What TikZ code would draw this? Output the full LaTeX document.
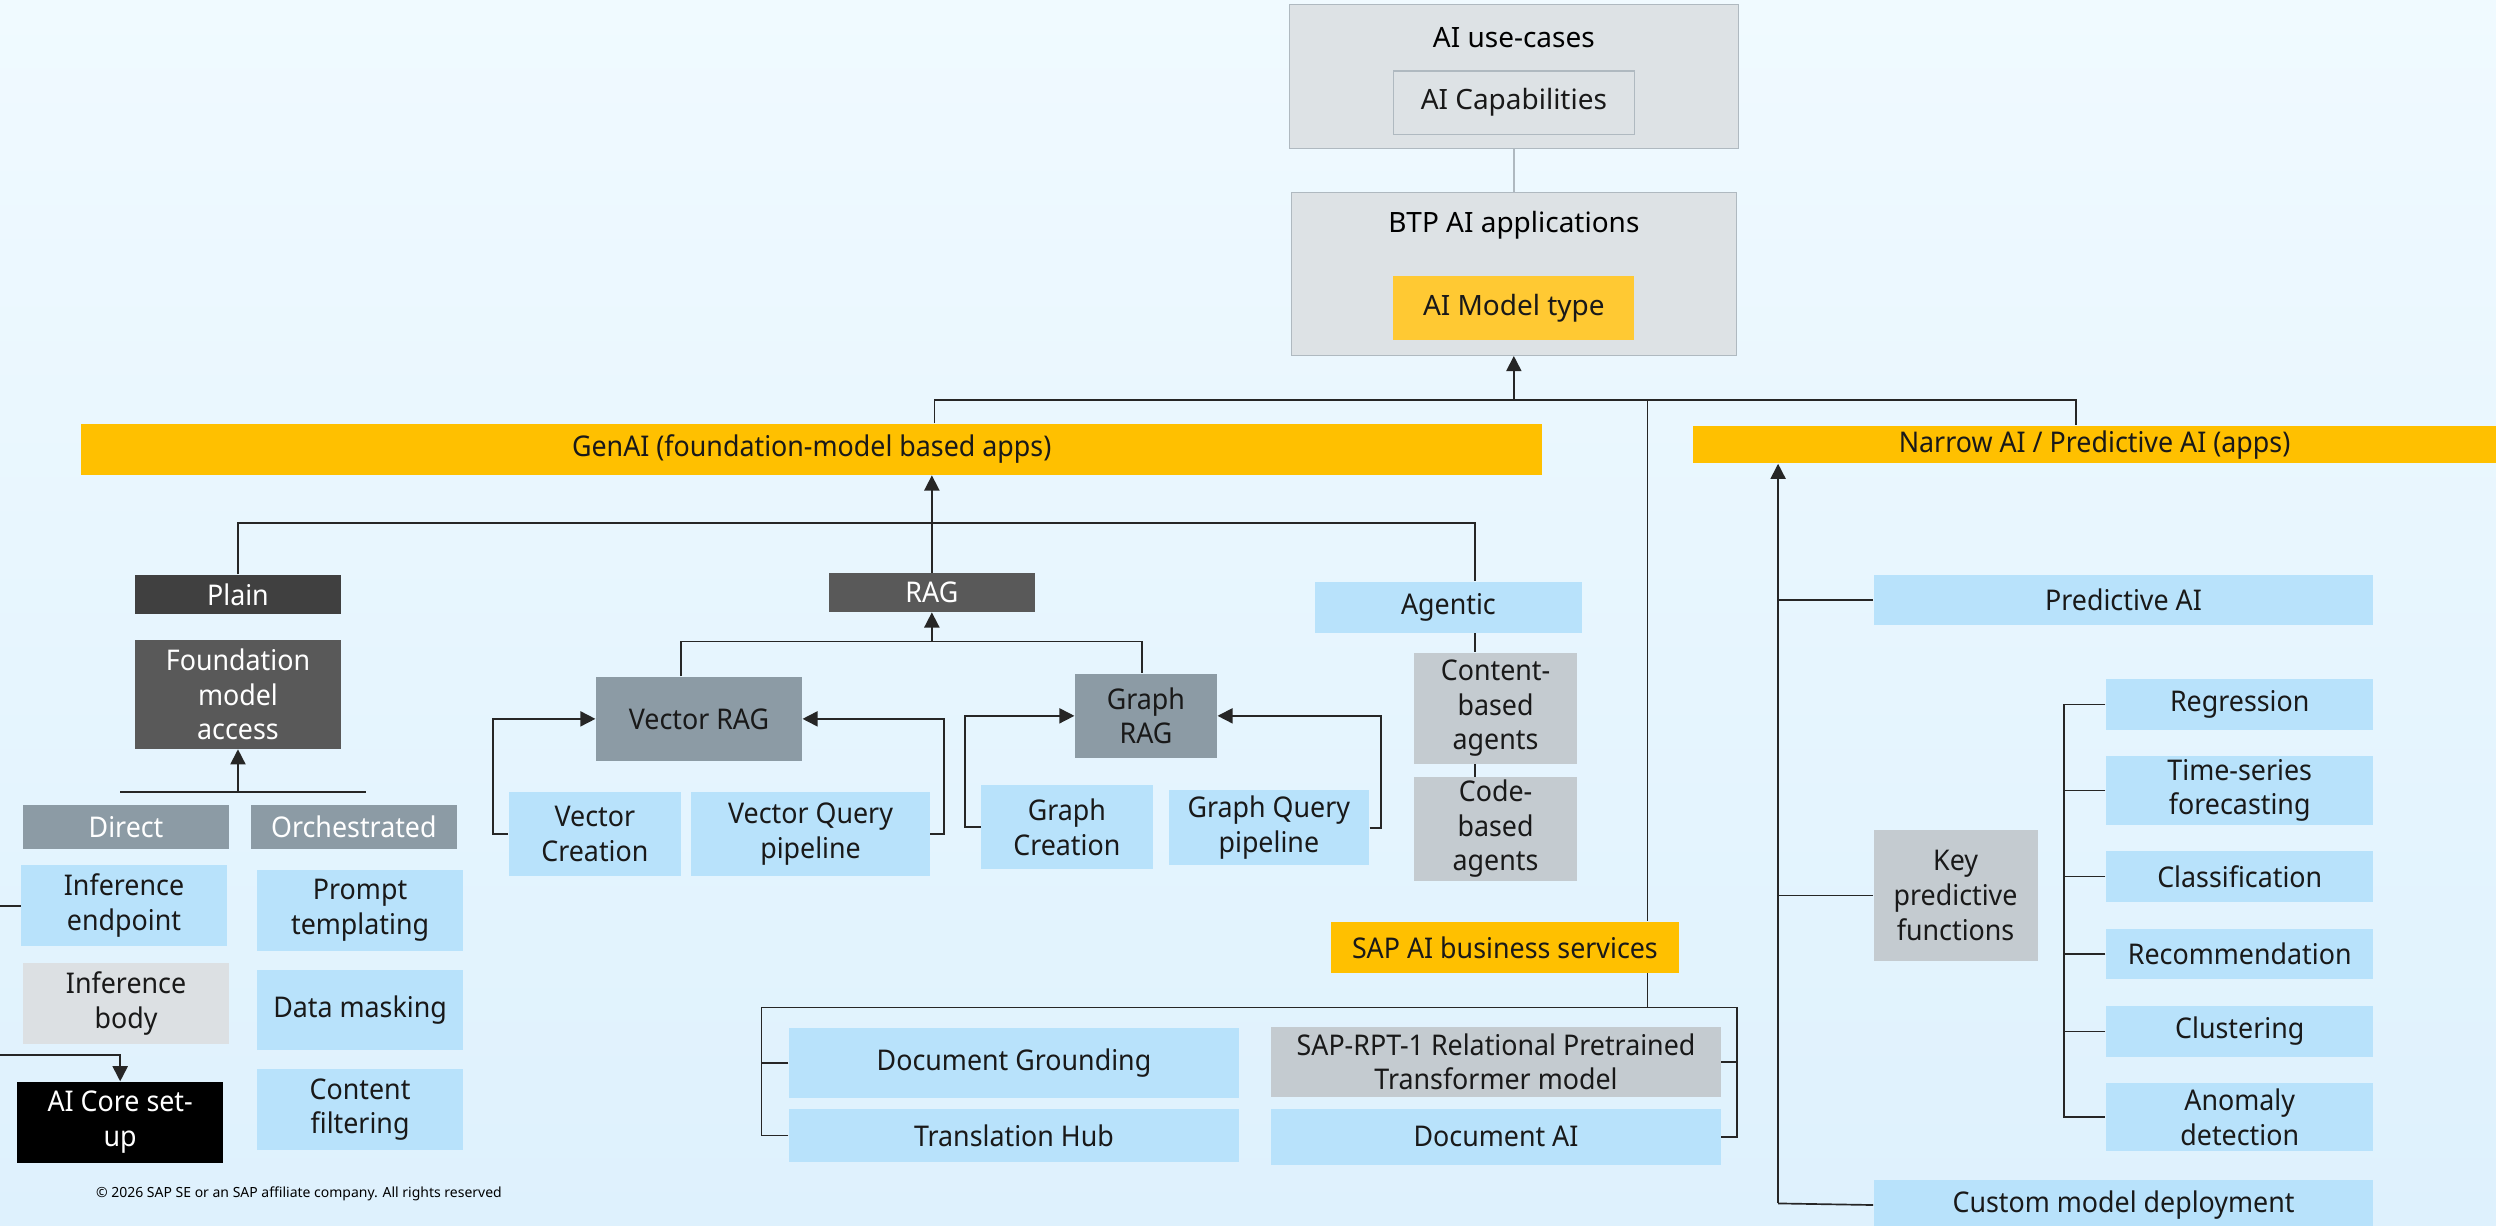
\documentclass[tikz,border=0pt]{standalone}
\usepackage{fontspec}
\setmainfont{Noto Sans}
\newfontfamily\condfont[FakeStretch=0.94]{Noto Sans}
\usetikzlibrary{arrows.meta, positioning, calc}

\definecolor{skyblue}{RGB}{184,226,251}
\definecolor{slate}{RGB}{140,155,165}
\definecolor{darkbox}{RGB}{64,64,64}
\definecolor{midbox}{RGB}{89,89,89}
\definecolor{silver}{RGB}{196,203,208}
\definecolor{paleg}{RGB}{220,224,227}
\definecolor{amber}{RGB}{255,192,0}
\definecolor{amberlt}{RGB}{255,201,51}
\definecolor{topgray}{RGB}{221,226,229}
\definecolor{topline}{RGB}{175,185,192}
\definecolor{bgtop}{RGB}{240,250,255}
\definecolor{bgbot}{RGB}{222,241,253}

\tikzset{sz/.style 2 args={minimum width=#1*0.02cm, minimum height=#2*0.02cm}}

\begin{document}
\begin{tikzpicture}[x=0.02cm, y=-0.02cm, node distance=0.32cm,
    block/.style={rectangle, inner sep=1pt, align=center, text=black!90, font=\condfont\fontsize{10.2}{12.4}\selectfont},
    bluebox/.style={block, fill=skyblue},
    slatebox/.style={block, fill=slate},
    greybox/.style={block, fill=silver},
    darkblock/.style={block, fill=midbox, text=white},
    bar/.style={block, fill=amber},
    topbox/.style={block, fill=topgray, draw=topline, line width=0.5pt, font=\fontsize{10}{12}\selectfont},
    toptext/.style={inner sep=0pt, font=\fontsize{10}{12}\selectfont},
    wire/.style={draw=black!85, line width=0.6pt},
    arrow/.style={wire, -{Triangle[width=0.19cm, length=0.19cm]}}]

    \useasboundingbox (0,0) rectangle (1568,770);
    \shade[top color=bgtop, bottom color=bgbot] (0,0) rectangle (1568,770);

    % top of the tree
    \node[topbox, sz={282}{90.5}] (usecases) at (951,48) {};
    \node[toptext] (usecasestxt) at (951,23.4) {AI use-cases};
    \node[topbox, sz={151.5}{40}] (capab) at (951,64.5) {AI Capabilities};
    \node[topbox, sz={279.4}{102.4}] (btp) at (951,172) {};
    \node[toptext] (btptxt) at (951,141.3) {BTP AI applications};
    \node[topbox, fill=amberlt, draw=none, sz={151.5}{40}] (modeltype) at (951,193.4) {AI Model type};

    \node[bar, sz={917.8}{32}] (genai) at (509.9,282.3) {GenAI (foundation-model based apps)};
    \node[bar, sz={504.4}{23.4}] (narrow) at (1315.8,279.3) {Narrow AI / Predictive AI (apps)};

    % GenAI branch
    \node[block, fill=darkbox, text=white, sz={129.5}{24.3}] (plain) at (149.5,373.4) {Plain};
    \node[darkblock, sz={129.5}{68.3}] (found) at (149.5,436.2) {Foundation\\model\\access};
    \node[slatebox, text=white, sz={129.5}{27.3}] (direct) at (79.2,519.4) {Direct};
    \node[slatebox, text=white, sz={129.4}{27.3}] (orch) at (222.3,519.4) {Orchestrated};
    \node[bluebox, sz={129.3}{50.4}] (infend) at (77.9,568.8) {Inference\\endpoint};
    \node[block, fill=paleg, sz={129.3}{50.6}] (infbody) at (79.2,630.3) {Inference\\body};
    \node[block, fill=black, text=white, sz={129.6}{50.7}] (aicore) at (75.5,705) {AI Core set-\\up};
    \node[bluebox, sz={129.4}{50.6}] (prompt) at (226.2,571.9) {Prompt\\templating};
    \node[bluebox, sz={129.4}{50.2}, below=0.23cm of prompt] (mask) {Data masking};
    \node[bluebox, sz={129.4}{50.5}, below=0.23cm of mask] (filter) {Content\\filtering};

    \node[darkblock, sz={129.1}{24.1}] (rag) at (585.4,372.3) {RAG};
    \node[slatebox, sz={129.4}{52.6}] (vrag) at (439.1,451.6) {Vector RAG};
    \node[slatebox, sz={89.2}{52.6}] (grag) at (719.9,449.7) {Graph\\RAG};
    \node[bluebox, sz={108.2}{52.6}] (vcreate) at (373.7,523.8) {Vector\\Creation};
    \node[bluebox, sz={149.7}{52.6}] (vquery) at (509.2,523.8) {Vector Query\\pipeline};
    \node[bluebox, sz={107.8}{52.4}] (gcreate) at (670.2,519.5) {Graph\\Creation};
    \node[bluebox, sz={125.8}{47.3}] (gquery) at (797.1,520) {Graph Query\\pipeline};

    \node[bluebox, sz={168}{31.9}] (agentic) at (909.9,381.6) {Agentic};
    \node[greybox, sz={102.7}{69.6}] (content) at (939.5,445) {Content-\\based\\agents};
    \node[greybox, sz={102.7}{61.4}] (code) at (939.5,520.7) {Code-\\based\\agents};

    % business services
    \node[bar, sz={218.3}{31.8}] (sapsvc) at (945.4,595.1) {SAP AI business services};
    \node[bluebox, sz={282.8}{43.8}] (docground) at (637,667.7) {Document Grounding};
    \node[bluebox, sz={282.8}{33.1}] (transhub) at (637,713.25) {Translation Hub};
    \node[greybox, sz={282.5}{43.8}] (saprpt) at (939.8,667.1) {SAP-RPT-1 Relational Pretrained\\Transformer model};
    \node[bluebox, sz={282.5}{35}] (docai) at (939.8,714.2) {Document AI};

    % predictive branch
    \node[bluebox, sz={314}{31.4}] (predai) at (1334,377) {Predictive AI};
    \node[greybox, sz={103}{82}] (keyfn) at (1228.5,562.5) {Key\\predictive\\functions};
    \node[bluebox, sz={314}{31}] (cmd) at (1334,757) {Custom model deployment};
    \node[bluebox, sz={168}{31.8}] (regr) at (1407,442.5) {Regression};
    \node[bluebox, sz={168}{43}, below=of regr] (tseries) {Time-series\\forecasting};
    \node[bluebox, sz={168}{31.8}, below=of tseries] (classif) {Classification};
    \node[bluebox, sz={168}{31.9}, below=of classif] (recomm) {Recommendation};
    \node[bluebox, sz={168}{32}, below=of recomm] (cluster) {Clustering};
    \node[bluebox, sz={168}{42.6}, below=of cluster] (anom) {Anomaly\\detection};

    \node[anchor=west, inner sep=0pt, font=\fontsize{5}{6}\selectfont] (copy) at (60,750) {\textcopyright\ 2026 SAP SE or an SAP affiliate company. All rights reserved};

    % connectors
    \draw[draw=topline, line width=0.8pt] (usecases) -- (btp);
    \coordinate (hub) at (951,251.3);
    \coordinate (hubL) at (587,251.3);
    \coordinate (hubR) at (1304,251.3);
    \coordinate (hubS) at (1035,251.3);
    \draw[arrow] (hub) -- (btp.south);
    \draw[wire] (genai.north -| hubL) -- (hubL) -- (hubR) -- (narrow.north -| hubR);
    \draw[wire] (hubS) -- (sapsvc.north -| hubS);

    \coordinate (gen) at (585.4,328.6);
    \coordinate (genR) at (926.4,328.6);
    \draw[arrow] (gen) -- (genai.south -| gen);
    \draw[wire] (plain.north) |- (genR) -- (agentic.north -| genR);
    \draw[wire] (gen) -- (rag.north);
    \draw[wire] (agentic.south -| genR) -- (content.north -| genR);
    \draw[wire] (content.south -| genR) -- (code.north -| genR);

    \coordinate (fm) at (149.5,497.5);
    \coordinate (fmL) at (75.4,497.5);
    \coordinate (fmR) at (229.7,497.5);
    \draw[wire] (fmL) -- (fmR);
    \draw[arrow] (fm) -- (found.south);
    \coordinate (edgeA) at (0,569);
    \coordinate (edgeB) at (0,662.8);
    \draw[wire] (edgeA) -- (infend.west |- edgeA);
    \draw[arrow] (edgeB) -| (aicore.north);

    \coordinate (ragj) at (585.4,403);
    \coordinate (ragL) at (427.8,403);
    \coordinate (ragR) at (717.2,403);
    \draw[arrow] (ragj) -- (rag.south);
    \draw[wire] (vrag.north -| ragL) -- (ragL) -- (ragR) -- (grag.north -| ragR);
    \draw[arrow] (vcreate.west) -- ++(-9.7,0) |- (vrag.west);
    \draw[arrow] (vquery.east) -- ++(8.8,0) |- (vrag.east);
    \draw[arrow] (gcreate.west) -- ++(-9.7,0) |- (grag.west);
    \draw[arrow] (gquery.east) -- ++(7.4,0) |- (grag.east);

    \coordinate (svcj) at (1035,633);
    \coordinate (svcL) at (478.4,633);
    \coordinate (svcR) at (1091.2,633);
    \draw[wire] (sapsvc.south -| hubS) -- (svcj);
    \draw[wire] (docground.west) -| (svcL) -- (svcR) |- (docai.east);
    \draw[wire] (transhub.west) -| (svcL);
    \draw[wire] (saprpt.east) -| (svcR);

    \coordinate (nspine) at (1117,756);
    \draw[wire] (cmd.west) -- (nspine);
    \draw[arrow] (nspine) -- (narrow.south -| nspine);
    \draw[wire] (predai.west) -- (predai.west -| nspine);
    \draw[wire] (keyfn.west) -- (keyfn.west -| nspine);
    \draw[wire] (regr.west) -- ++(-26,0) coordinate (kspine) |- (anom.west);
    \foreach \n in {tseries, classif, recomm, cluster}
        \draw[wire] (\n.west) -- (\n.west -| kspine);
\end{tikzpicture}
\end{document}
